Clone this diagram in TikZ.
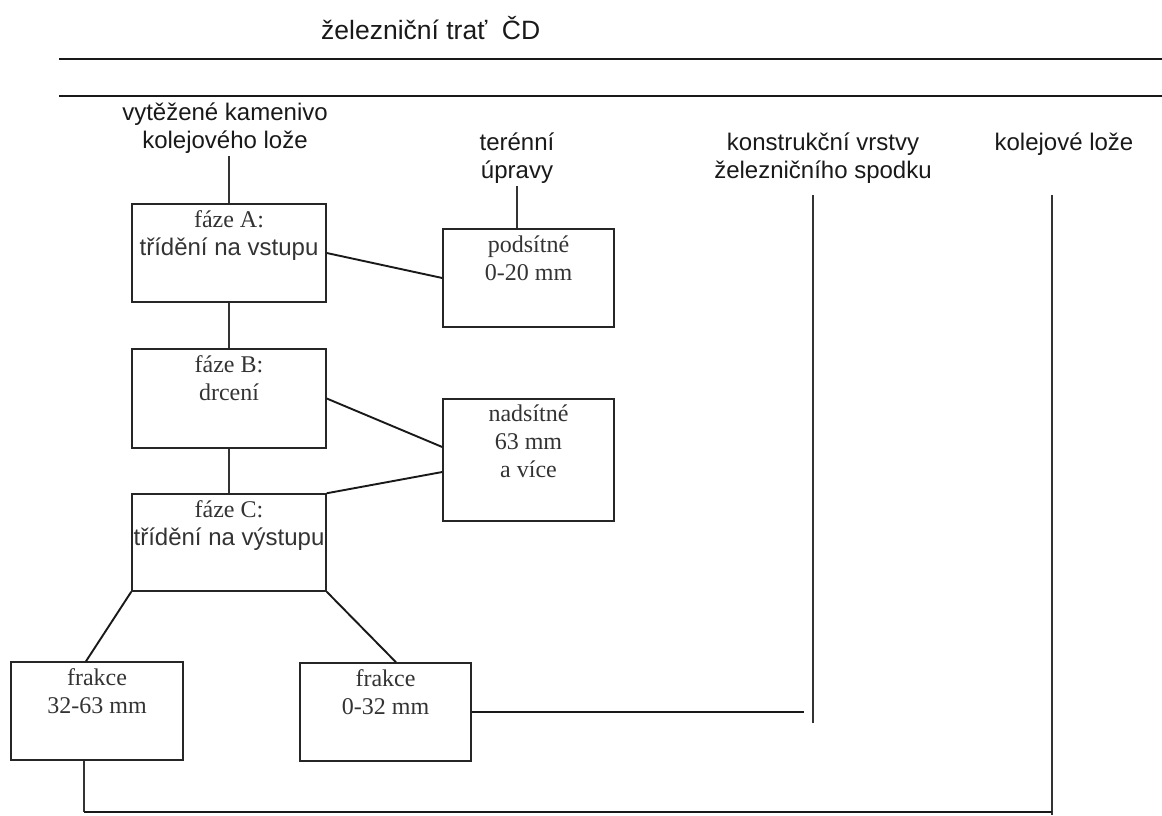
\documentclass[tikz,border=0pt]{standalone}
\usepackage{fontspec}
\setmainfont{Liberation Serif}
\newfontfamily\lsans{Liberation Sans}
\newcommand\mlines[1]{\begin{tabular}[t]{@{}c@{}}#1\end{tabular}}
\tikzset{
  box/.style={draw=black!85, line width=1.5pt, inner sep=0pt},
  btext/.style={anchor=base, inner sep=0pt, font=\fontsize{24}{28}\selectfont, text=black!80},
  ltext/.style={anchor=base, inner sep=0pt, font=\lsans\fontsize{24}{28}\selectfont, text=black!90},
  conn/.style={line width=1.9pt, draw=black!90},
  thin/.style={line width=1.5pt, draw=black!80}
}
\begin{document}
\begin{tikzpicture}[x=1pt,y=-1pt]
\useasboundingbox (0,0) rectangle (1162,815);

% title and top lines
\node[ltext, anchor=base west, font=\lsans\fontsize{26.5}{30}\selectfont] (title) at (321,39) {železniční trať\ \ ČD};
\coordinate (t1a) at (59,59);  \coordinate (t1b) at (1162,59);
\coordinate (t2a) at (59,96);  \coordinate (t2b) at (1162,96);
\draw[conn] (t1a) -- (t1b);
\draw[conn] (t2a) -- (t2b);

% labels
\node[ltext] (L1) at (225,120) {\mlines{vytěžené kamenivo\\kolejového lože}};
\node[ltext] (LT) at (517,150) {\mlines{terénní\\úpravy}};
\node[ltext] (LK) at (823,150) {\mlines{konstrukční vrstvy\\železničního spodku}};
\node[ltext] (LL) at (1064,150) {kolejové lože};

% boxes
\node[box, minimum width=194pt, minimum height=98pt] (A) at (229,253) {};
\node[box, minimum width=194pt, minimum height=99pt] (B) at (229,398.5) {};
\node[box, minimum width=194pt, minimum height=97pt] (C) at (229,542.5) {};
\node[box, minimum width=171pt, minimum height=98pt] (P) at (528.5,278) {};
\node[box, minimum width=171pt, minimum height=122pt] (N) at (528.5,460) {};
\node[box, minimum width=172pt, minimum height=98pt] (F1) at (97,711) {};
\node[box, minimum width=171pt, minimum height=98pt] (F2) at (385.5,712) {};

% box texts
\node[btext] (At) at ([yshift=-24pt]A.north) {\mlines{fáze A:\\\lsans třídění na vstupu}};
\node[btext] (Bt) at ([yshift=-24pt]B.north) {\mlines{fáze B:\\drcení}};
\node[btext] (Ct) at ([yshift=-24pt]C.north) {\mlines{fáze C:\\\lsans třídění na výstupu}};
\node[btext] (Pt) at ([yshift=-24pt]P.north) {\mlines{podsítné\\0-20 mm}};
\node[btext] (Nt) at ([yshift=-23pt]N.north) {\mlines{nadsítné\\63 mm\\a více}};
\node[btext] (F1t) at ([yshift=-24pt]F1.north) {\mlines{frakce\\32-63 mm}};
\node[btext] (F2t) at ([yshift=-24pt]F2.north) {\mlines{frakce\\0-32 mm}};

% connectors
\draw[thin] (A.north) -- ++(0,-47);
\draw[thin] ([xshift=-11.5pt]P.north) -- ++(0,-42);
\draw[conn] (A.east) -- (P.west);
\draw[thin] (A.south) -- (B.north);
\draw[thin] (B.south) -- (C.north);
\draw[conn] (B.east) -- ([yshift=13pt]N.west);
\draw[conn] (C.north east) -- ([yshift=-12pt]N.west);
\draw[conn] (C.south west) -- ([xshift=-11pt]F1.north);
\draw[conn] (C.south east) -- ([xshift=10.5pt]F2.north);

\coordinate (kEnd) at (804,712);
\draw[conn] (F2.east) -- (kEnd);
\coordinate (k1) at (813,195); \coordinate (k2) at (813,723);
\draw[thin] (k1) -- (k2);
\coordinate (l1) at (1052,195); \coordinate (l2) at (1052,815);
\draw[thin] (l1) -- (l2);
\coordinate (b1) at (84,812); \coordinate (b2) at (1052,812);
\draw[thin] ([xshift=-13pt]F1.south) -- (b1);
\draw[conn] (b1) -- (b2);
\end{tikzpicture}
\end{document}
